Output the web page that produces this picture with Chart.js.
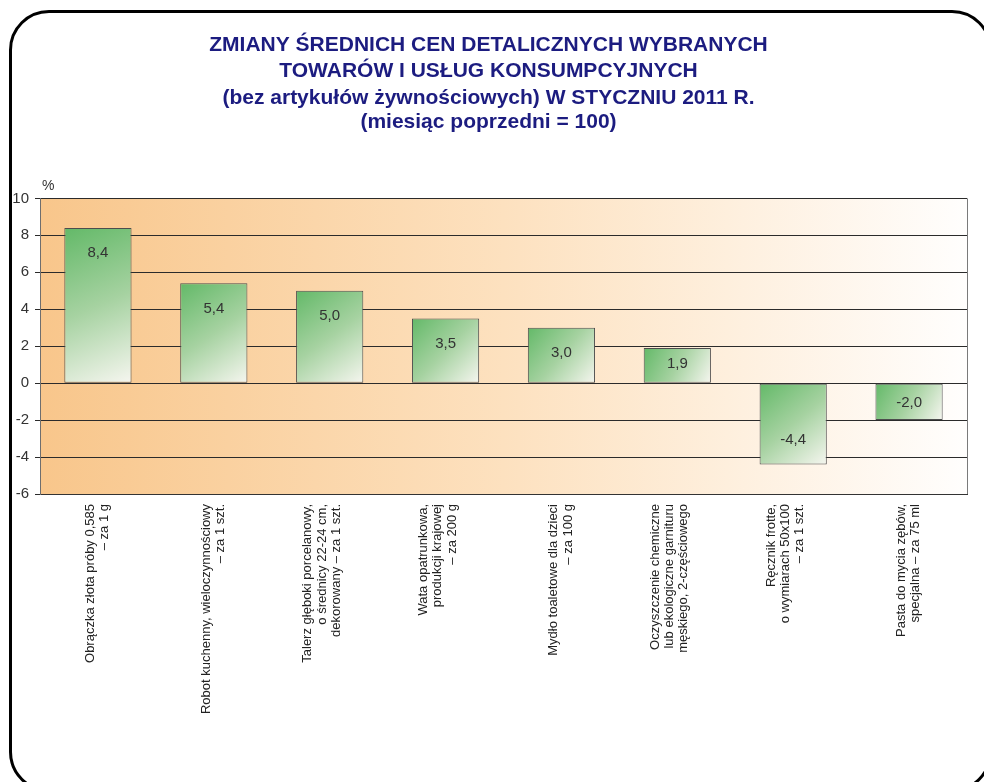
<!DOCTYPE html>
<html lang="pl">
<head>
    <meta charset="UTF-8">
    <title>Zmiany średnich cen detalicznych – styczeń 2011</title>
    <script src="https://cdn.jsdelivr.net/npm/chart.js"></script>
    <style>
        html, body {
            margin: 0;
            background: #fff;
            overflow: hidden;
        }
        .wrap {
            position: relative;
            width: 984px;
            height: 782px;
            overflow: hidden;
        }
        .frame {
            position: absolute;
            left: 9px;
            top: 10px;
            width: 983px;
            height: 782px;
            border: 3px solid #000;
            border-radius: 40px;
            box-sizing: border-box;
        }
        canvas {
            position: absolute;
            left: 0;
            top: 0;
        }
    </style>
</head>
<body>
<div class="wrap">
    <div class="frame"></div>
    <canvas id="chart" width="984" height="782"></canvas>
</div>

<script>
    // Data
    const categories = [
        ['Obrączka złota próby 0,585', '– za 1 g'],
        ['Robot kuchenny, wieloczynnościowy', '– za 1 szt.'],
        ['Talerz głęboki porcelanowy,', 'o średnicy 22-24 cm,', 'dekorowany – za 1 szt.'],
        ['Wata opatrunkowa,', 'produkcji krajowej', '– za 200 g'],
        ['Mydło toaletowe dla dzieci', '– za 100 g'],
        ['Oczyszczenie chemiczne', 'lub ekologiczne garnituru', 'męskiego, 2-częściowego'],
        ['Ręcznik frotte,', 'o wymiarach 50x100', '– za 1 szt.'],
        ['Pasta do mycia zębów,', 'specjalna – za 75 ml']
    ];
    const values = [8.4, 5.4, 5.0, 3.5, 3.0, 1.9, -4.4, -2.0];
    const yTicks = [-6, -4, -2, 0, 2, 4, 6, 8, 10];

    const titleLines = [
        'ZMIANY ŚREDNICH CEN DETALICZNYCH WYBRANYCH',
        'TOWARÓW I USŁUG KONSUMPCYJNYCH'
    ];
    const subtitleLines = [
        '(bez artykułów żywnościowych) W STYCZNIU 2011 R.',
        '(miesiąc poprzedni = 100)'
    ];

    const barPct = 0.58;
    const fmt = v => v.toFixed(1).replace('.', ',');

    // orange -> white background of the plot area
    const plotBackground = {
        id: 'plotBackground',
        beforeDraw(chart) {
            const { ctx, chartArea: a } = chart;
            const g = ctx.createLinearGradient(a.left, 0, a.right, 0);
            g.addColorStop(0, '#f8c68b');
            g.addColorStop(0.5, '#fde1bf');
            g.addColorStop(1, '#fffefd');
            ctx.save();
            ctx.fillStyle = g;
            ctx.fillRect(a.left, a.top, a.width, a.height);
            ctx.restore();
        },
        beforeDatasetsDraw(chart) {
            const { ctx, chartArea: a } = chart;
            ctx.save();
            ctx.strokeStyle = '#7a7a7a';
            ctx.lineWidth = 1;
            ctx.beginPath();
            ctx.moveTo(a.right + 0.5, a.top);
            ctx.lineTo(a.right + 0.5, a.bottom);
            ctx.stroke();
            // "%" unit above the axis
            ctx.fillStyle = '#333';
            ctx.font = '14px "Liberation Sans", Arial, sans-serif';
            ctx.textAlign = 'left';
            ctx.textBaseline = 'middle';
            ctx.fillText('%', a.left + 2, a.top - 12);
            ctx.restore();
        }
    };

    // value labels inside the bars
    const valueLabels = {
        id: 'valueLabels',
        afterDatasetsDraw(chart) {
            const { ctx } = chart;
            const meta = chart.getDatasetMeta(0);
            ctx.save();
            ctx.fillStyle = '#333';
            ctx.font = '15px "Liberation Sans", Arial, sans-serif';
            ctx.textAlign = 'center';
            ctx.textBaseline = 'middle';
            meta.data.forEach((bar, i) => {
                const v = values[i];
                const h = Math.abs(bar.base - bar.y);
                const off = Math.min(25, h / 2 - 1);
                const y = v >= 0 ? bar.y + off : bar.y - off;
                ctx.fillText(fmt(v), bar.x, y);
            });
            ctx.restore();
        }
    };

    function barGradient(context) {
        const chart = context.chart;
        const xs = chart.scales.x, ys = chart.scales.y;
        if (!xs || !ys || context.type !== 'data') return '#6bbd6e';
        const v = values[context.dataIndex];
        const cx = xs.getPixelForValue(context.dataIndex);
        const half = xs.width / categories.length * barPct / 2;
        const top = ys.getPixelForValue(Math.max(v, 0));
        const bottom = ys.getPixelForValue(Math.min(v, 0));
        if (![cx, half, top, bottom].every(Number.isFinite)) return '#6bbd6e';
        const g = chart.ctx.createLinearGradient(cx - half, top, cx + half, bottom);
        g.addColorStop(0, '#63b968');
        g.addColorStop(0.5, '#a6d2a1');
        g.addColorStop(1, '#f6f6f0');
        return g;
    }

    new Chart(document.getElementById('chart'), {
        type: 'bar',
        data: {
            labels: categories,
            datasets: [{
                data: values,
                backgroundColor: barGradient,
                borderColor: '#4d4d4d',
                borderWidth: 1,
                borderSkipped: false,
                categoryPercentage: 1,
                barPercentage: barPct
            }]
        },
        options: {
            responsive: false,
            animation: false,
            layout: {
                padding: { left: 10, right: 17, top: 0, bottom: 0 }
            },
            plugins: {
                legend: { display: false },
                tooltip: { enabled: false },
                title: {
                    display: true,
                    text: titleLines,
                    color: '#1c1c80',
                    font: { family: '"Liberation Sans", Arial, sans-serif', size: 21, weight: 'bold', lineHeight: 1.24 },
                    padding: { top: 32, bottom: 2 }
                },
                subtitle: {
                    display: true,
                    text: subtitleLines,
                    color: '#1c1c80',
                    font: { family: '"Liberation Sans", Arial, sans-serif', size: 21, weight: 'bold', lineHeight: 1.15 },
                    padding: { top: 0, bottom: 64 }
                }
            },
            scales: {
                x: {
                    grid: { display: false, drawTicks: false },
                    border: { color: '#333' },
                    ticks: {
                        autoSkip: false,
                        maxRotation: 90,
                        minRotation: 90,
                        padding: 10,
                        labelOffset: -22,
                        color: '#222',
                        font: { family: '"Liberation Sans", Arial, sans-serif', size: 13, lineHeight: 1.1 },
                        // two-line labels get a blank first line so every block sits centred on its bar
                        callback(value, i) {
                            const l = categories[i];
                            return l.length < 3 ? [''].concat(l) : l;
                        }
                    },
                    afterFit(scale) { scale.height = 288; }
                },
                y: {
                    min: -6,
                    max: 10,
                    afterBuildTicks(scale) { scale.ticks = yTicks.map(v => ({ value: v })); },
                    grid: { color: '#2b2b2b', lineWidth: 1, tickLength: 5 },
                    border: { color: '#6e6e6e' },
                    ticks: {
                        padding: 6,
                        color: '#333',
                        font: { family: '"Liberation Sans", Arial, sans-serif', size: 15 }
                    },
                    afterFit(scale) { scale.width = 30; }
                }
            }
        },
        plugins: [plotBackground, valueLabels]
    });
</script>
</body>
</html>
